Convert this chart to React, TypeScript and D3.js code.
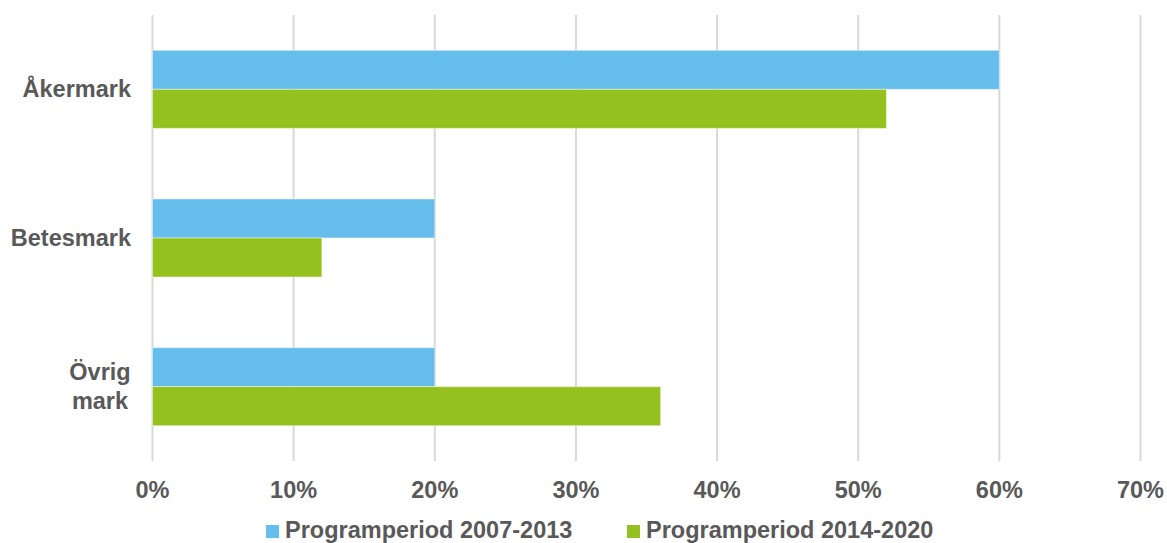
import React from "react";
import * as d3 from "d3";

const categories = ["Åkermark", "Betesmark", "Övrig mark"];
const seriesNames = ["Programperiod 2007-2013", "Programperiod 2014-2020"];
const series2007_2013 = [0.6, 0.2, 0.2];
const series2014_2020 = [0.52, 0.12, 0.36];
const xTicks = [0, 0.1, 0.2, 0.3, 0.4, 0.5, 0.6, 0.7];
const colors = ["#65BEEB", "#94C11E"];

const W = 1167;
const H = 543;
const FONT = "'Liberation Sans', Arial, sans-serif";
const TEXT = "#595959";

export default function App() {
  const x = d3.scaleLinear().domain([0, 0.7]).range([152.5, 1140.5]);
  const y = d3.scaleBand<string>().domain(categories).range([15, 461]).padding(0);
  const groupH = y.bandwidth() * 0.525;
  const sub = d3.scaleBand<string>().domain(seriesNames).range([0, groupH]).padding(0);
  const values = [series2007_2013, series2014_2020];
  const fmt = d3.format(".0%");

  return (
    <svg width={W} height={H} style={{ position: "absolute", left: 0, top: 0 }} fontFamily={FONT}>
      <rect width={W} height={H} fill="#ffffff" />
      {xTicks.map((t) => (
        <line key={t} x1={x(t)} x2={x(t)} y1={15} y2={461} stroke="#D9D9D9" strokeWidth={2} />
      ))}
      {categories.map((c, i) => {
        const top = (y(c) as number) + (y.bandwidth() - groupH) / 2;
        return (
          <g key={c}>
            {seriesNames.map((s, j) => (
              <rect
                key={s}
                x={x(0)}
                y={top + (sub(s) as number)}
                width={x(values[j][i]) - x(0)}
                height={sub.bandwidth()}
                fill={colors[j]}
                stroke="#ffffff"
                strokeOpacity={0.45}
                strokeWidth={1}
              />
            ))}
          </g>
        );
      })}
      {categories.map((c) => {
        const cy = (y(c) as number) + y.bandwidth() / 2;
        const words = c === "Övrig mark" ? ["Övrig", "mark"] : [c];
        const multi = words.length > 1;
        const lh = 29;
        const startY = cy - ((words.length - 1) * lh) / 2 + 8;
        return (
          <text key={c} textAnchor={multi ? "middle" : "end"} fontSize={23.5} fontWeight="bold" fill={TEXT}>
            {words.map((w, k) => (
              <tspan key={w} x={multi ? 100 : 131} y={startY + k * lh}>
                {w}
              </tspan>
            ))}
          </text>
        );
      })}
      {xTicks.map((t) => (
        <text key={"l" + t} x={x(t)} y={498} textAnchor="middle" fontSize={23.5} fontWeight="bold" fill={TEXT}>
          {fmt(t)}
        </text>
      ))}
      {seriesNames.map((s, j) => {
        const lx = j === 0 ? 266 : 627;
        return (
          <g key={"leg" + s}>
            <rect x={lx} y={525} width={13} height={13} fill={colors[j]} />
            <text x={lx + 19} y={538} fontSize={23.5} fontWeight="bold" fill={TEXT}>
              {s}
            </text>
          </g>
        );
      })}
    </svg>
  );
}
